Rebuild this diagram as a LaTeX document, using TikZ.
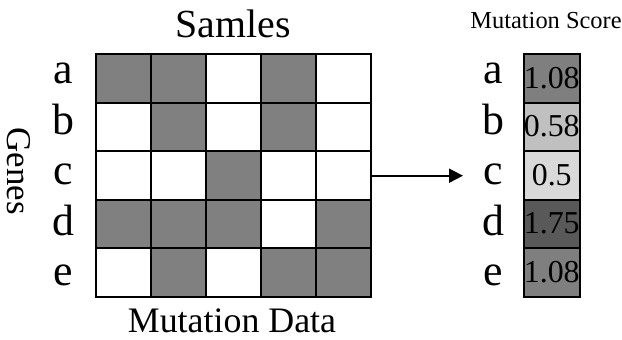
\documentclass[tikz,border=0pt]{standalone}
\usepackage{fontspec}
\setmainfont{Liberation Serif}
\usetikzlibrary{arrows.meta}
\definecolor{mgray}{HTML}{808080}
\definecolor{sa}{HTML}{7F7F7F}
\definecolor{sb}{HTML}{C0C0C0}
\definecolor{sc}{HTML}{D9D9D9}
\definecolor{sd}{HTML}{595959}
\tikzset{
  cellbox/.style={draw=black, line width=2bp, minimum width=55bp, minimum height=48.6bp, inner sep=0pt, anchor=north west},
  on/.style={cellbox, fill=mgray},
  off/.style={cellbox, fill=white},
  scorebox/.style={draw=black, line width=2bp, minimum width=55.5bp, minimum height=48.6bp, inner sep=0pt, anchor=north west},
  rowlbl/.style={font=\fontsize{44}{48}\selectfont, anchor=base, inner sep=0pt},
  numlbl/.style={font=\fontsize{32}{34}\selectfont, inner sep=0pt},
  big/.style={anchor=base, inner sep=0pt},
}
\begin{document}
\begin{tikzpicture}[x=1bp, y=-1bp]
\useasboundingbox (0,0) rectangle (622,339);
% grid
\foreach \r/\pat in {0/{1,1,0,1,0},1/{0,1,0,1,0},2/{0,0,1,0,0},3/{1,1,1,0,1},4/{0,1,0,1,1}}{
  \foreach \v [count=\c from 0] in \pat {
    \ifnum\v=1
      \node[on] (g\r\c) at ({95+55*\c},{53+48.6*\r}) {};
    \else
      \node[off] (g\r\c) at ({95+55*\c},{53+48.6*\r}) {};
    \fi
  }
}
% row labels
\foreach \l/\y in {a/83,b/134,c/184,d/235,e/285}{
  \node[rowlbl] (L\l) at (63,\y) {\l};
  \node[rowlbl] (R\l) at (493,\y) {\l};
}
% score column
\foreach \i/\col/\val in {0/sa/1.08,1/sb/0.58,2/sc/0.5,3/sd/1.75,4/sa/1.08}{
  \node[scorebox, fill=\col] (s\i) at (523,{53+48.6*\i}) {};
  \node[numlbl] (n\i) at ([yshift=0.5bp]s\i.center) {\val};
}
\node[big, font=\fontsize{40}{42}\selectfont] (samples) at (233,37) {Samles};
\node[big, font=\fontsize{36}{40}\selectfont] (mdata) at (232,332) {Mutation Data};
\node[font=\fontsize{35}{37}\selectfont, rotate=-90, inner sep=0pt] (genes) at (19,171) {Genes};
\node[font=\fontsize{24.5}{26}\selectfont, anchor=base, inner sep=0pt] (mscore) at (546,28) {Mutation Score};
\coordinate (tip) at (463,175.7);
\draw[line width=1.8bp, -{Triangle[length=14bp,width=14bp]}] (g24.east |- tip) -- (tip);
\end{tikzpicture}
\end{document}
